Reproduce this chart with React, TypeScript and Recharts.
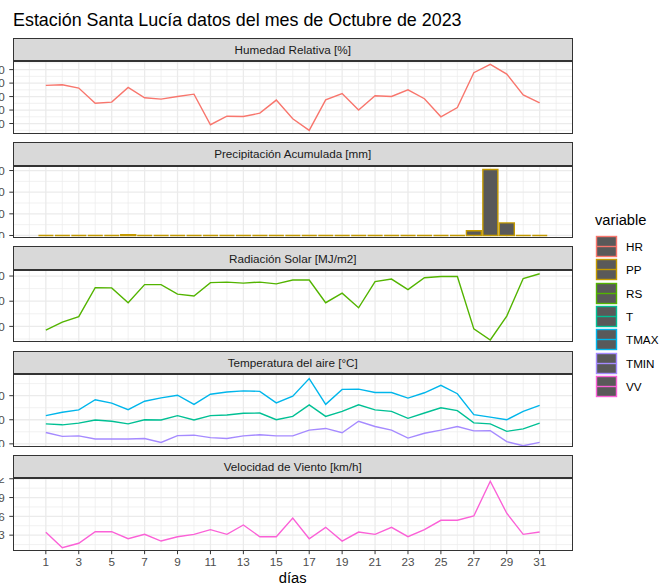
import React from 'react';
import { ComposedChart, Line, Bar, XAxis, YAxis, ReferenceLine } from 'recharts';

// ---------- data ----------
const days = [1, 2, 3, 4, 5, 6, 7, 8, 9, 10, 11, 12, 13, 14, 15, 16, 17, 18, 19, 20, 21, 22, 23, 24, 25, 26, 27, 28, 29, 30, 31];
const HR = [78.3, 78.8, 76.3, 65.1, 65.9, 76.8, 69.1, 68.1, 70.1, 71.8, 49.1, 55.4, 55.2, 57.7, 67.4, 53.5, 44.9, 67.6, 72.3, 60.0, 70.6, 70.1, 75.0, 68.4, 55.0, 61.9, 87.7, 93.9, 86.7, 71.3, 65.4];
const PP = [0, 0, 0, 0, 0, 0.4, 0, 0, 0, 0, 0, 0, 0, 0, 0, 0, 0, 0, 0, 0, 0, 0, 0, 0, 0, 0, 2.2, 30.5, 5.8, 0, 0];
const RS = [8.5, 11.7, 13.9, 25.4, 25.3, 19.4, 26.6, 26.6, 22.8, 22.1, 27.4, 27.6, 27.2, 27.6, 26.9, 28.4, 28.4, 19.4, 23.2, 17.4, 27.8, 28.8, 24.6, 29.3, 29.8, 29.8, 9.0, 4.6, 14.1, 29.0, 30.9];
const T = [18.3, 17.9, 18.6, 19.9, 19.4, 18.3, 20.0, 19.9, 21.7, 19.9, 21.7, 22.0, 22.7, 22.8, 20.0, 21.4, 26.2, 21.4, 23.5, 26.2, 24.1, 23.5, 20.6, 22.8, 25.0, 23.8, 18.7, 18.3, 15.2, 16.2, 18.6];
const TMAX = [21.7, 23.1, 24.1, 28.3, 26.9, 24.2, 27.7, 29.1, 30.2, 26.4, 30.6, 31.5, 32.0, 31.8, 27.0, 29.8, 37.1, 26.4, 32.6, 32.7, 31.3, 31.3, 29.0, 31.2, 34.3, 30.8, 22.1, 21.1, 20.0, 23.5, 26.0];
const TMIN = [14.7, 13.1, 13.3, 12.0, 12.0, 12.0, 12.2, 10.6, 13.4, 13.6, 12.6, 12.2, 13.3, 13.8, 13.3, 13.3, 15.7, 16.4, 14.6, 19.4, 17.2, 15.7, 12.4, 14.4, 15.7, 17.2, 15.4, 15.5, 10.9, 9.2, 10.6];
const VV = [3.45, 1.0, 1.7, 3.55, 3.55, 2.43, 3.13, 2.06, 2.75, 3.13, 3.87, 3.13, 4.62, 2.75, 2.75, 5.74, 2.43, 4.25, 2.06, 3.5, 3.13, 4.25, 2.75, 3.87, 5.37, 5.37, 6.06, 11.6, 6.5, 3.13, 3.5];

const xMajor = [1, 3, 5, 7, 9, 11, 13, 15, 17, 19, 21, 23, 25, 27, 29, 31];
const xMinor = [0, 2, 4, 6, 8, 10, 12, 14, 16, 18, 20, 22, 24, 26, 28, 30, 32];

const hrTicks = [50, 60, 70, 80, 90];
const hrMinor = [45, 55, 65, 75, 85, 95];
const ppTicks = [0, 10, 20, 30];
const ppMinor = [5, 15, 25];
const rsTicks = [10, 20, 30];
const rsMinor = [5, 15, 25];
const tTicks = [10, 20, 30];
const tMinor = [15, 25, 35];
const vvTicks = [3, 6, 9, 12];
const vvMinor = [1.5, 4.5, 7.5, 10.5];

const variables = ['HR', 'PP', 'RS', 'T', 'TMAX', 'TMIN', 'VV'];
const colors: Record<string, string> = {
  HR: '#F8766D', PP: '#C49A00', RS: '#53B400', T: '#00C094', TMAX: '#00B6EB', TMIN: '#A58AFF', VV: '#FB61D7',
};

const rows = days.map((d, i) => ({
  day: d, HR: HR[i], PP: PP[i], RS: RS[i], T: T[i], TMAX: TMAX[i], TMIN: TMIN[i], VV: VV[i],
}));

const panels = [
  { title: 'Humedad Relativa [%]', lines: ['HR'], bars: [] as string[], domain: [42.6, 96.4], ticks: hrTicks, minor: hrMinor },
  { title: 'Precipitación Acumulada [mm]', lines: [] as string[], bars: ['PP'], domain: [-1.4, 32.1], ticks: ppTicks, minor: ppMinor },
  { title: 'Radiación Solar [MJ/m2]', lines: ['RS'], bars: [] as string[], domain: [3.6, 32.4], ticks: rsTicks, minor: rsMinor },
  { title: 'Temperatura del aire [°C]', lines: ['T', 'TMAX', 'TMIN'], bars: [] as string[], domain: [8.9, 39.0], ticks: tTicks, minor: tMinor },
  { title: 'Velocidad de Viento [km/h]', lines: ['VV'], bars: [] as string[], domain: [0.55, 12.12], ticks: vvTicks, minor: vvMinor },
];

// ---------- layout ----------
const FONT = '"Liberation Sans", Arial, Helvetica, sans-serif';
const X_DOMAIN = [-0.995, 32.995];
const PLOT_L = 13;
const PLOT_R = 572.5;
const STRIP0 = 37.7;
const PERIOD = 104.3;
const STRIP_H = 23.5;
const PLOT_H = 72.5;
const XAXIS_H = 30;
const GRID = '#EBEBEB';
const TICK_STYLE = { fontSize: 11.7, fill: '#4D4D4D', fontFamily: FONT };

const BarShape = (props: any) => {
  const { x, y, width, height } = props;
  if (x == null || y == null) return null;
  const h = Math.max(0, Number(height) || 0);
  return (
    <path
      d={`M${x},${y}h${width}v${h}h${-width}Z`}
      fill="#595959"
      stroke={colors.PP}
      strokeWidth={1.4}
    />
  );
};

function axes(p: (typeof panels)[number], last: boolean, showTicks: boolean) {
  return [
    <XAxis
      key="x"
      type="number"
      dataKey="day"
      domain={X_DOMAIN}
      allowDataOverflow
      ticks={xMajor}
      interval={0}
      hide={!last}
      height={XAXIS_H}
      axisLine={false}
      tickLine={showTicks ? { stroke: '#333333' } : false}
      tickSize={3.7}
      tickMargin={3}
      tick={showTicks ? TICK_STYLE : false}
    />,
    <YAxis
      key="y"
      type="number"
      domain={p.domain}
      allowDataOverflow
      ticks={p.ticks}
      interval={0}
      width={PLOT_L}
      axisLine={false}
      tickLine={showTicks ? { stroke: '#333333' } : false}
      tickSize={3.7}
      tickMargin={4.5}
      tick={showTicks ? TICK_STYLE : false}
    />,
  ];
}

function Panel({ p, idx }: { p: (typeof panels)[number]; idx: number }) {
  const stripTop = STRIP0 + PERIOD * idx;
  const plotTop = stripTop + STRIP_H;
  const last = idx === panels.length - 1;
  const chartH = PLOT_H + (last ? XAXIS_H : 0);
  const common = {
    width: PLOT_R + 2.5,
    height: chartH,
    data: rows,
    margin: { top: 0, right: 2.5, bottom: 0, left: 0 },
  };
  return (
    <>
      <div
        style={{
          position: 'absolute', left: PLOT_L, top: stripTop, width: PLOT_R - PLOT_L, height: STRIP_H,
          boxSizing: 'border-box', background: '#D9D9D9', border: '1.1px solid #333333',
          display: 'flex', alignItems: 'center', justifyContent: 'center',
          fontSize: 11.7, color: '#1A1A1A', fontFamily: FONT,
        }}
      >
        {p.title}
      </div>
      {/* background layer: axes and grid */}
      <div style={{ position: 'absolute', left: 0, top: plotTop }}>
        <ComposedChart {...common}>
          {axes(p, last, true)}
          {p.minor.map((v) => (
            <ReferenceLine key={'hm' + v} y={v} stroke={GRID} strokeWidth={0.7} />
          ))}
          {p.ticks.map((v) => (
            <ReferenceLine key={'hM' + v} y={v} stroke={GRID} strokeWidth={1.3} />
          ))}
          {xMinor.map((v) => (
            <ReferenceLine key={'vm' + v} x={v} stroke={GRID} strokeWidth={0.7} />
          ))}
          {xMajor.map((v) => (
            <ReferenceLine key={'vM' + v} x={v} stroke={GRID} strokeWidth={1.3} />
          ))}
        </ComposedChart>
      </div>
      {/* foreground layer: data */}
      <div style={{ position: 'absolute', left: 0, top: plotTop }}>
        <ComposedChart {...common} barCategoryGap="5%">
          {axes(p, last, false)}
          {p.bars.map((k) => (
            <Bar key={k} dataKey={k} shape={BarShape} isAnimationActive={false} />
          ))}
          {p.lines.map((k) => (
            <Line
              key={k}
              type="linear"
              dataKey={k}
              stroke={colors[k]}
              strokeWidth={1.4}
              dot={false}
              activeDot={false}
              isAnimationActive={false}
            />
          ))}
        </ComposedChart>
      </div>
      <div
        style={{
          position: 'absolute', left: PLOT_L, top: plotTop, width: PLOT_R - PLOT_L, height: PLOT_H,
          boxSizing: 'border-box', border: '1.1px solid #333333', pointerEvents: 'none',
        }}
      />
    </>
  );
}

function LegendBox() {
  return (
    <div style={{ position: 'absolute', left: 595, top: 211, fontFamily: FONT }}>
      <div style={{ fontSize: 14.7, color: '#000', lineHeight: '18px', height: 24 }}>variable</div>
      {variables.map((v) => (
        <div key={v} style={{ display: 'flex', alignItems: 'center', height: 23.3 }}>
          <svg width={23} height={23} style={{ display: 'block' }}>
            <rect x={1.5} y={1.5} width={20} height={20} fill="#595959" stroke={colors[v]} strokeWidth={1.4} />
            <line x1={1.5} x2={21.5} y1={11.5} y2={11.5} stroke={colors[v]} strokeWidth={1.4} />
          </svg>
          <span style={{ fontSize: 11.7, color: '#000', marginLeft: 8 }}>{v}</span>
        </div>
      ))}
    </div>
  );
}

export default function App() {
  return (
    <div
      style={{
        position: 'absolute', left: 0, top: 0, width: 659, height: 583, background: '#fff',
        overflow: 'hidden', fontFamily: FONT,
      }}
    >
      <div style={{ position: 'absolute', left: 13, top: 10.3, fontSize: 17.9, color: '#000', whiteSpace: 'nowrap' }}>
        Estación Santa Lucía datos del mes de Octubre de 2023
      </div>
      {panels.map((p, i) => (
        <Panel key={p.title} p={p} idx={i} />
      ))}
      <div
        style={{
          position: 'absolute', left: PLOT_L, width: PLOT_R - PLOT_L, top: 570, textAlign: 'center',
          fontSize: 14.7, color: '#000', lineHeight: '17px',
        }}
      >
        días
      </div>
      <LegendBox />
    </div>
  );
}
